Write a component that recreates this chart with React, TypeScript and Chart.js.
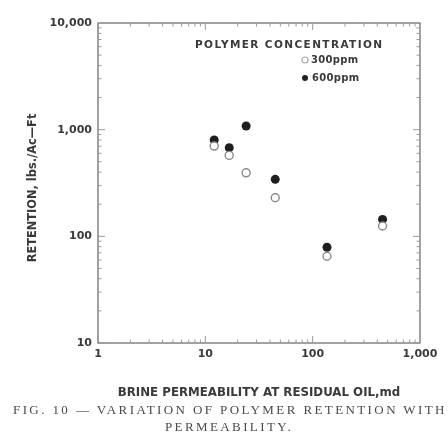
import React, { useEffect, useRef } from "react";
import { Chart, registerables } from "chart.js";
Chart.register(...registerables);

const permeability = [12.1, 16.7, 24, 44.8, 136, 448];
const retention300 = [702, 574, 394, 230, 65, 125];
const retention600 = [800, 677, 1082, 342, 79, 144];
const xTickValues = [1, 10, 100, 1000];
const xTickLabels = ["1", "10", "100", "1,000"];
const yTickValues = [10, 100, 1000, 10000];
const yTickLabels = ["10", "100", "1,000", "10,000"];
const seriesLabels = ["300ppm", "600ppm"];
const legendTitle = "POLYMER CONCENTRATION";
const xTitle = "BRINE PERMEABILITY AT RESIDUAL OIL,md";
const yTitle = "RETENTION, lbs./Ac\u2014Ft";
const captionLines = ["FIG. 10 \u2014 VARIATION OF POLYMER RETENTION WITH", "PERMEABILITY."];

const INK = "#3a3a3a";
const SANS = "'DejaVu Sans', sans-serif";

const framePlugin = {
  id: "frameTicks",
  afterDraw(chart: any) {
    const { ctx, chartArea } = chart;
    const { left, right, top, bottom } = chartArea;
    const xs = chart.scales.x;
    const ys = chart.scales.y;
    ctx.save();
    ctx.strokeStyle = "#707070";
    ctx.lineWidth = 1.3;
    ctx.strokeRect(left, top, right - left, bottom - top);
    ctx.lineWidth = 1;
    ctx.strokeStyle = "#999";
    for (let d = 0; d < 3; d++) {
      for (let k = 1; k <= 9; k++) {
        const v = k * Math.pow(10, d);
        const len = k === 1 ? 7 : 3.5;
        const px = xs.getPixelForValue(v);
        ctx.beginPath();
        ctx.moveTo(px, bottom);
        ctx.lineTo(px, bottom - len);
        ctx.moveTo(px, top);
        ctx.lineTo(px, top + len);
        ctx.stroke();
        const vy = k * Math.pow(10, d + 1);
        const py = ys.getPixelForValue(vy);
        ctx.beginPath();
        ctx.moveTo(left, py);
        ctx.lineTo(left + len, py);
        ctx.moveTo(right, py);
        ctx.lineTo(right - len, py);
        ctx.stroke();
      }
    }
    // y-axis title
    ctx.save();
    ctx.translate(33, (top + bottom) / 2 + 5);
    ctx.rotate(-Math.PI / 2);
    ctx.textAlign = "center";
    ctx.textBaseline = "middle";
    ctx.fillStyle = INK;
    ctx.font = "bold 11.4px " + SANS;
    ctx.fillText(yTitle, 0, 0);
    ctx.restore();
    // legend
    ctx.fillStyle = INK;
    ctx.textBaseline = "middle";
    ctx.textAlign = "left";
    ctx.font = "bold 10.5px " + SANS;
    (ctx as any).letterSpacing = "1.4px";
    ctx.fillText(legendTitle, 195, 45);
    ctx.font = "bold 10px " + SANS;
    (ctx as any).letterSpacing = "0.3px";
    ctx.beginPath();
    ctx.arc(305, 60, 3, 0, Math.PI * 2);
    ctx.strokeStyle = "#aaa";
    ctx.lineWidth = 1.2;
    ctx.stroke();
    ctx.fillStyle = INK;
    ctx.fillText(seriesLabels[0], 311, 60);
    ctx.beginPath();
    ctx.arc(305, 78, 3, 0, Math.PI * 2);
    ctx.fillStyle = "#222";
    ctx.fill();
    ctx.fillStyle = INK;
    ctx.fillText(seriesLabels[1], 312, 78);
    ctx.restore();
  },
};

export default function App() {
  const ref = useRef<HTMLCanvasElement>(null);
  useEffect(() => {
    if (!ref.current) return;
    const chart = new Chart(ref.current, {
      type: "scatter",
      data: {
        datasets: [
          {
            label: seriesLabels[0],
            data: permeability.map((x, i) => ({ x, y: retention300[i] })),
            pointRadius: 4,
            pointBorderWidth: 1.4,
            pointBorderColor: "#8a8a8a",
            pointBackgroundColor: "#ffffff",
          },
          {
            label: seriesLabels[1],
            data: permeability.map((x, i) => ({ x, y: retention600[i] })),
            pointRadius: 4.5,
            pointBorderWidth: 0,
            pointBorderColor: "#1e1e1e",
            pointBackgroundColor: "#1e1e1e",
          },
        ],
      },
      options: {
        responsive: false,
        animation: false,
        layout: { padding: { top: 23, right: 28, left: 0, bottom: 0 } },
        plugins: { legend: { display: false }, tooltip: { enabled: false } },
        scales: {
          x: {
            type: "logarithmic",
            min: 1,
            max: 1000,
            grid: { display: false, drawTicks: false },
            border: { display: false },
            afterBuildTicks: (s: any) => {
              s.ticks = xTickValues.map((value) => ({ value }));
            },
            afterFit: (s: any) => {
              s.height = 99;
            },
            ticks: {
              autoSkip: false,
              maxRotation: 0,
              padding: 5,
              color: INK,
              font: { family: SANS, weight: "bold", size: 11 },
              callback: (v: any) => xTickLabels[xTickValues.indexOf(Number(v))] ?? "",
            },
            title: {
              display: true,
              text: xTitle,
              color: INK,
              font: { family: SANS, weight: "bold", size: 11.8 },
              padding: { top: 0, bottom: 42 },
            },
          },
          y: {
            type: "logarithmic",
            min: 10,
            max: 10000,
            grid: { display: false, drawTicks: false },
            border: { display: false },
            afterBuildTicks: (s: any) => {
              s.ticks = yTickValues.map((value) => ({ value }));
            },
            afterFit: (s: any) => {
              s.width = 98;
            },
            ticks: {
              autoSkip: false,
              padding: 6,
              color: INK,
              font: { family: SANS, weight: "bold", size: 11 },
              callback: (v: any) => yTickLabels[yTickValues.indexOf(Number(v))] ?? "",
            },
            title: { display: false, text: yTitle },
          },
        },
      },
      plugins: [framePlugin],
    } as any);
    return () => chart.destroy();
  }, []);
  const capStyle: React.CSSProperties = {
    position: "absolute",
    left: 0,
    whiteSpace: "nowrap",
    fontFamily: "'Liberation Serif', serif",
    fontSize: 13,
    color: "#4a4a4a",
    letterSpacing: "2.4px",
    lineHeight: "14px",
  };
  return (
    <div style={{ position: "absolute", left: 0, top: 0, width: 448, height: 442, background: "#fff", overflow: "hidden" }}>
      <canvas ref={ref} width={448} height={442} style={{ position: "absolute", left: 0, top: 0 }} />
      <div style={{ ...capStyle, top: 403, left: 13 }}>{captionLines[0]}</div>
      <div style={{ ...capStyle, top: 420, textAlign: "center", width: 458 }}>{captionLines[1]}</div>
    </div>
  );
}
